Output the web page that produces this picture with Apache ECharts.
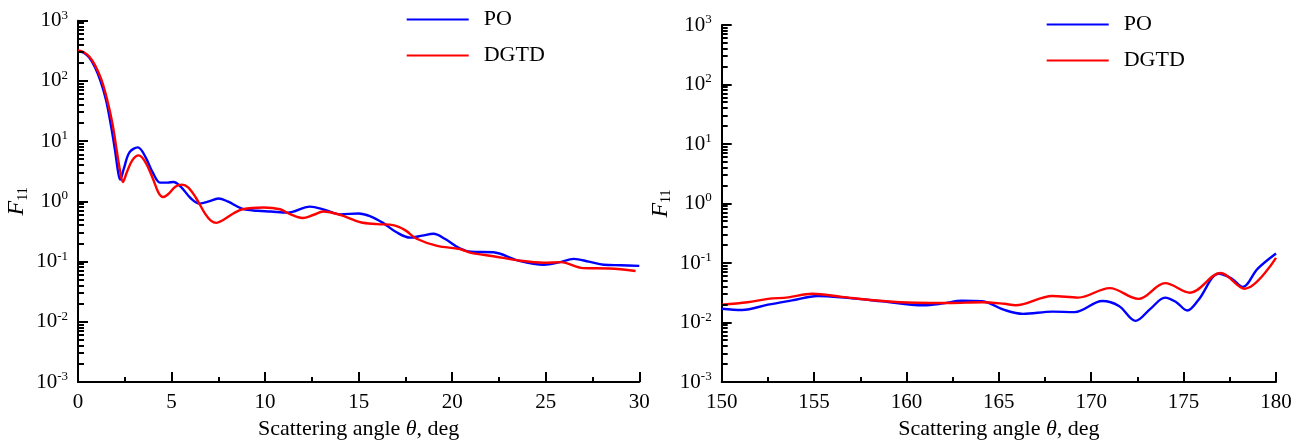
<!DOCTYPE html>
<html>
<head>
<meta charset="utf-8">
<script src="https://cdn.jsdelivr.net/npm/echarts@6/dist/echarts.min.js"></script>
<style>
html,body{margin:0;padding:0;background:#fff;}
#chart{width:1307px;height:445px;}
</style>
</head>
<body>
<div id="chart"></div>
<script>
// ---------- data ----------
const seriesNames = ['PO', 'DGTD'];

// Left panel (forward scattering, 0-30 deg)
const leftPOAngle = [0, 0.3, 0.6, 0.9, 1.2, 1.5, 1.75, 1.98, 2.15, 2.25, 2.45, 2.75, 3.2, 3.6, 4.0, 4.4, 4.8, 5.1, 5.5, 6.0, 6.5, 7.0, 7.5, 8.0, 8.8, 9.6, 10.3, 11.2, 12.4, 13.2, 14.0, 15.0, 15.6, 16.3, 17.0, 17.75, 18.4, 19.0, 19.6, 20.4, 21.0, 22.2, 23.5, 24.9, 25.7, 26.5, 27.3, 28.1, 29.0, 30.0];
const leftPOValue = [310, 295, 245, 170, 100, 48, 19, 7.0, 3.0, 2.3, 3.5, 6.5, 7.9, 5.5, 3.0, 2.05, 2.05, 2.1, 1.75, 1.15, 0.92, 1.0, 1.12, 1.0, 0.75, 0.70, 0.68, 0.65, 0.82, 0.72, 0.61, 0.63, 0.57, 0.44, 0.31, 0.25, 0.27, 0.29, 0.24, 0.166, 0.146, 0.143, 0.105, 0.089, 0.097, 0.111, 0.100, 0.089, 0.087, 0.085];
const leftDGTDAngle = [0, 0.3, 0.6, 0.9, 1.25, 1.55, 1.85, 2.07, 2.25, 2.4, 2.6, 2.9, 3.25, 3.6, 4.0, 4.3, 4.55, 4.8, 5.2, 5.55, 5.9, 6.3, 6.8, 7.1, 7.4, 7.8, 8.3, 8.8, 9.9, 10.8, 11.3, 12.0, 12.6, 13.1, 14.0, 15.1, 16.0, 16.9, 17.5, 18.1, 19.2, 20.4, 21.0, 22.2, 23.5, 24.9, 25.8, 27.0, 28.4, 29.8];
const leftDGTDValue = [320, 300, 255, 185, 105, 50, 19, 7.0, 3.2, 2.1, 3.0, 4.8, 5.8, 4.5, 2.4, 1.4, 1.18, 1.3, 1.75, 1.9, 1.7, 1.15, 0.62, 0.48, 0.44, 0.50, 0.63, 0.74, 0.79, 0.74, 0.62, 0.53, 0.60, 0.68, 0.60, 0.45, 0.42, 0.40, 0.33, 0.24, 0.183, 0.162, 0.140, 0.123, 0.105, 0.096, 0.098, 0.078, 0.077, 0.070];

// Right panel (back scattering, 150-180 deg)
const rightPOAngle = [150, 151.1, 152.5, 153.8, 155.2, 156.8, 158.7, 160.9, 162.0, 163.0, 164.1, 165.3, 166.3, 167.9, 169.1, 170.6, 171.5, 172.4, 173.2, 174.0, 174.6, 175.2, 175.8, 176.9, 177.6, 178.2, 179.0, 180.0];
const rightPOValue = [0.0171, 0.0163, 0.020, 0.0236, 0.028, 0.026, 0.0228, 0.0195, 0.021, 0.0233, 0.0228, 0.0163, 0.014, 0.0153, 0.015, 0.023, 0.019, 0.0107, 0.017, 0.0263, 0.022, 0.016, 0.024, 0.066, 0.055, 0.0397, 0.08, 0.145];
const rightDGTDAngle = [150, 151.4, 152.5, 153.6, 154.9, 156.5, 158.7, 160.5, 162.3, 164.1, 165.3, 165.9, 167.9, 169.3, 171.0, 172.55, 174.0, 175.35, 177.0, 178.3, 180.0];
const rightDGTDValue = [0.020, 0.022, 0.025, 0.0265, 0.0305, 0.027, 0.023, 0.0215, 0.0213, 0.022, 0.0207, 0.0195, 0.028, 0.0263, 0.038, 0.025, 0.046, 0.0318, 0.068, 0.037, 0.122];

// axis tick definitions
const yDecadeExponents = [-3, -2, -1, 0, 1, 2, 3];
const yMinorMultipliers = [2, 3, 4, 5, 6, 7, 8, 9];
const leftXRange = [0, 30];
const rightXRange = [150, 180];
const xMajorStep = 5;

// ---------- build ----------
const FONT = "'Liberation Serif', 'Times New Roman', serif";
const pairs = (xs, ys) => xs.map((x, i) => [x, ys[i]]);
const minorTickValues = [];
for (let i = 0; i < yDecadeExponents.length - 1; i++) {
  for (let j = 0; j < yMinorMultipliers.length; j++) {
    minorTickValues.push(yMinorMultipliers[j] * Math.pow(10, yDecadeExponents[i]));
  }
}

const grids = [
  {left: 78, top: 20.7, width: 561.3, height: 363.3},
  {left: 721.7, top: 25, width: 554.3, height: 359}
];

function xAxis(gi, range) {
  return {
    type: 'value', gridIndex: gi, min: range[0], max: range[1], interval: xMajorStep,
    axisLine: {show: true, onZero: false, lineStyle: {color: '#000', width: 2}},
    axisTick: {show: true, inside: true, length: 10, lineStyle: {color: '#000', width: 2}},
    minorTick: {show: true, splitNumber: 2, length: 5, lineStyle: {color: '#000', width: 2}},
    splitLine: {show: false},
    axisLabel: {margin: 10, color: '#000', fontSize: 21, fontFamily: FONT},
    name: 'Scattering angle {i|θ}, deg', nameLocation: 'middle', nameGap: 33,
    nameTextStyle: {color: '#000', fontSize: 22, fontFamily: FONT,
      rich: {i: {fontStyle: 'italic', fontSize: 22, fontFamily: FONT, color: '#000'}}}
  };
}
function yLogAxis(gi) {
  return {
    type: 'log', logBase: 10, gridIndex: gi,
    min: Math.pow(10, yDecadeExponents[0]), max: Math.pow(10, yDecadeExponents[yDecadeExponents.length - 1]),
    splitNumber: yDecadeExponents.length - 1,
    axisLine: {show: true, onZero: false, lineStyle: {color: '#000', width: 2}},
    axisTick: {show: true, inside: true, length: 10, lineStyle: {color: '#000', width: 2}},
    splitLine: {show: false},
    axisLabel: {
      margin: 10,
      formatter: v => '{b|10}{s|' + Math.round(Math.log10(v)) + '}',
      rich: {
        b: {fontSize: 21, fontFamily: FONT, color: '#000', lineHeight: 24},
        s: {fontSize: 13, fontFamily: FONT, color: '#000', verticalAlign: 'top', lineHeight: 12}
      }
    },
    name: '{f|F}{sub|11}', nameLocation: 'middle', nameRotate: 90, nameGap: 48,
    nameTextStyle: {rich: {
      f: {fontStyle: 'italic', fontSize: 24, fontFamily: FONT, color: '#000', lineHeight: 26},
      sub: {fontSize: 14, fontFamily: FONT, color: '#000', verticalAlign: 'bottom', lineHeight: 12}
    }}
  };
}
function legend(left, top) {
  return {
    data: seriesNames, orient: 'vertical', left: left, top: top,
    icon: 'rect', itemWidth: 62, itemHeight: 2, itemGap: 14,
    textStyle: {fontSize: 22, fontFamily: FONT, color: '#000', lineHeight: 22, padding: [0, 0, 0, 10]}
  };
}
function line(name, gi, data, color) {
  return {
    name: name, type: 'line', xAxisIndex: gi, yAxisIndex: gi, data: data,
    symbol: 'none', smooth: 0.35, lineStyle: {color: color, width: 2.4}, itemStyle: {color: color}
  };
}

const option = {
  animation: false,
  backgroundColor: '#fff',
  grid: grids,
  xAxis: [xAxis(0, leftXRange), xAxis(1, rightXRange)],
  yAxis: [yLogAxis(0), yLogAxis(1)],
  legend: [legend(401.7, 3.5), legend(1041.7, 8.5)],
  series: [
    line('PO', 0, pairs(leftPOAngle, leftPOValue), '#0000ff'),
    line('DGTD', 0, pairs(leftDGTDAngle, leftDGTDValue), '#ff0000'),
    line('PO', 1, pairs(rightPOAngle, rightPOValue), '#0000ff'),
    line('DGTD', 1, pairs(rightDGTDAngle, rightDGTDValue), '#ff0000')
  ]
};
const chart = echarts.init(document.getElementById('chart'));
chart.setOption(option);

// minor log ticks (2..9 per decade) placed through the chart's own axis scales
const tickGraphics = [];
[[0, leftXRange[0]], [1, rightXRange[0]]].forEach(([gi, xmin]) => {
  const px = chart.convertToPixel({xAxisIndex: gi}, xmin);
  minorTickValues.forEach(v => {
    const py = Math.round(chart.convertToPixel({yAxisIndex: gi}, v));
    tickGraphics.push({
      type: 'rect', silent: true, z: 100, zlevel: 1,
      shape: {x: px, y: py - 1, width: 6, height: 2},
      style: {fill: '#000'}
    });
  });
});
chart.setOption({graphic: {elements: tickGraphics}});
</script>
</body>
</html>
